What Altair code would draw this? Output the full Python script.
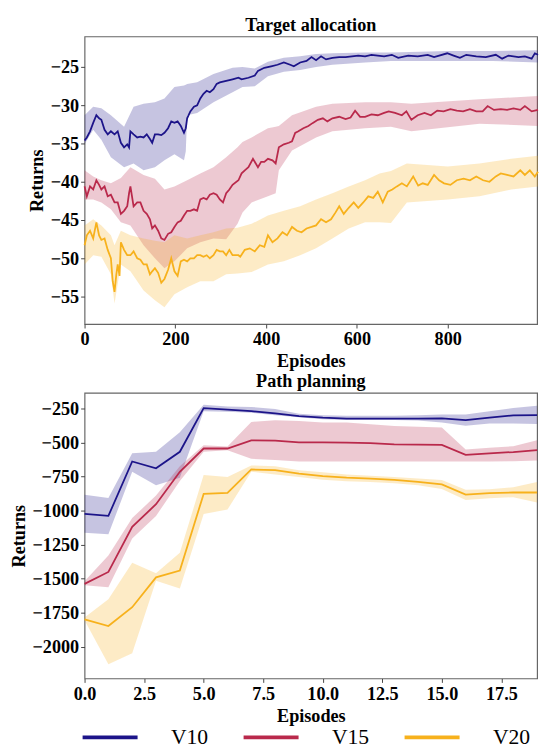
import altair as alt
import pandas as pd

SERIES = ["V10", "V15", "V20"]
COLORS = ["#1c1489", "#b9294b", "#f7b11c"]

# ---------------- Target allocation (top) ----------------
TA_V10_EP = [0, 5, 12, 19, 26, 32, 37, 44, 51, 58, 66, 73, 80, 87, 94, 98, 101, 108, 116, 123, 130, 137, 144, 149, 155, 162, 169, 176, 184, 191, 198, 205, 212, 219, 223, 226, 233, 241, 248, 255, 262, 269, 276, 284, 291, 298, 312, 326, 339, 346, 361, 375, 382, 396, 411, 425, 439, 453, 461, 475, 489, 500, 510, 521, 532, 546, 561, 575, 589, 603, 618, 632, 646, 660, 677, 691, 713, 734, 756, 770, 799, 813, 827, 841, 863, 884, 906, 920, 934, 956, 970, 985, 992, 999]
TA_V10 = [-34.6, -34.2, -33.4, -32.3, -31.3, -31.7, -31.9, -33.2, -33.8, -33.4, -33.8, -33.4, -34.9, -35.5, -35.1, -35.5, -33.4, -33.8, -34.2, -34.1, -34.2, -33.8, -34.4, -34.9, -33.8, -33.8, -33.9, -33.6, -33.0, -32.1, -32.3, -32.1, -32.7, -33.6, -33.0, -31.7, -30.8, -30.2, -30.0, -29.1, -28.5, -28.1, -28.3, -27.9, -27.2, -27.0, -26.8, -26.6, -26.4, -26.6, -26.4, -26.1, -25.5, -25.1, -24.9, -24.7, -24.4, -24.7, -24.9, -24.4, -24.2, -23.7, -24.1, -23.6, -24.0, -23.8, -23.7, -23.7, -23.6, -23.5, -23.6, -23.4, -23.5, -23.6, -23.4, -23.8, -23.5, -23.6, -23.4, -23.7, -23.2, -23.5, -23.8, -23.4, -23.6, -23.7, -23.4, -23.9, -23.5, -23.7, -23.6, -23.9, -23.2, -23.4]
TA_V10_BAND_EP = [0, 19, 37, 58, 87, 108, 130, 155, 176, 198, 219, 223, 226, 248, 284, 326, 348, 375, 404, 439, 475, 510, 546, 618, 675, 800, 900, 999]
TA_V10_LO = [-35.1, -33.2, -34.5, -36.8, -38.1, -37.6, -38.5, -38.1, -37.2, -36.4, -37.2, -36.0, -31.3, -31.0, -29.6, -28.3, -27.6, -27.5, -26.2, -25.6, -25.4, -25.0, -24.7, -24.4, -24.2, -24.2, -24.2, -24.4]
TA_V10_HI = [-31.3, -30.2, -30.4, -31.3, -32.8, -30.2, -29.8, -29.6, -29.1, -27.6, -27.4, -27.3, -27.2, -27.0, -25.9, -25.1, -25.0, -25.2, -24.3, -23.8, -23.6, -23.3, -23.2, -23.1, -23.1, -22.9, -22.9, -22.8]

TA_V15_EP = [0, 5, 12, 19, 26, 32, 37, 44, 51, 58, 66, 73, 80, 87, 94, 98, 101, 108, 116, 123, 130, 137, 144, 149, 155, 162, 169, 176, 184, 191, 198, 205, 212, 219, 226, 233, 241, 248, 255, 262, 269, 276, 284, 291, 298, 305, 312, 319, 326, 339, 346, 353, 361, 371, 382, 389, 396, 404, 414, 421, 428, 439, 450, 457, 464, 471, 482, 493, 503, 514, 525, 535, 546, 561, 575, 586, 596, 607, 618, 632, 646, 660, 670, 684, 699, 709, 720, 734, 749, 763, 777, 791, 806, 820, 834, 849, 863, 877, 888, 902, 917, 931, 945, 960, 970, 985, 999]
TA_V15 = [-40.6, -41.9, -40.6, -41.0, -39.8, -40.4, -41.0, -40.6, -41.9, -41.7, -42.7, -42.7, -44.2, -43.8, -43.2, -41.5, -40.6, -43.2, -42.7, -42.7, -43.8, -44.2, -44.9, -46.1, -45.7, -46.4, -47.4, -47.6, -46.8, -46.6, -45.9, -45.3, -45.1, -44.4, -43.8, -43.8, -43.6, -43.8, -42.3, -42.1, -42.3, -41.7, -41.5, -41.7, -42.3, -42.7, -41.5, -41.0, -40.4, -39.8, -38.9, -38.5, -38.1, -37.0, -38.1, -37.4, -37.4, -37.0, -37.2, -37.6, -35.5, -35.1, -34.9, -34.7, -33.6, -33.4, -33.0, -32.7, -32.3, -31.9, -31.7, -32.1, -31.7, -31.5, -31.8, -31.6, -30.7, -31.5, -31.5, -31.2, -31.3, -31.0, -30.8, -31.0, -31.3, -30.8, -31.9, -31.3, -31.0, -31.3, -30.7, -30.8, -30.5, -30.7, -30.8, -30.5, -30.8, -30.8, -30.1, -30.6, -30.5, -30.6, -30.4, -30.6, -30.1, -30.8, -30.6]
TA_V15_BAND_EP = [0, 19, 37, 58, 80, 101, 130, 155, 176, 198, 226, 255, 284, 312, 337, 348, 368, 404, 421, 428, 457, 510, 546, 618, 675, 720, 870, 999]
TA_V15_LO = [-42.3, -42.3, -42.7, -43.6, -45.3, -45.7, -48.3, -50.0, -51.3, -50.4, -48.7, -47.9, -47.4, -47.5, -45.5, -44.0, -42.7, -41.9, -41.5, -38.5, -35.9, -34.2, -33.4, -33.0, -32.8, -33.4, -32.4, -32.7]
TA_V15_HI = [-38.5, -39.3, -39.8, -40.2, -39.5, -38.1, -39.1, -39.6, -41.0, -40.6, -39.8, -38.9, -38.1, -36.8, -35.5, -34.8, -34.2, -33.0, -32.8, -32.7, -31.3, -30.2, -29.8, -29.6, -29.6, -29.8, -29.2, -28.8]

TA_V20_EP = [0, 5, 12, 19, 26, 32, 37, 44, 51, 58, 62, 66, 70, 73, 77, 80, 87, 94, 101, 108, 116, 123, 130, 137, 144, 149, 155, 162, 169, 176, 184, 191, 198, 205, 212, 219, 226, 233, 241, 248, 255, 262, 269, 276, 284, 291, 298, 305, 312, 319, 326, 339, 343, 353, 364, 375, 386, 396, 404, 414, 425, 436, 446, 457, 468, 478, 489, 500, 510, 521, 532, 543, 553, 561, 571, 582, 593, 603, 614, 625, 636, 646, 657, 668, 678, 688, 699, 710, 724, 735, 745, 756, 770, 781, 792, 806, 820, 835, 849, 863, 878, 892, 906, 917, 931, 945, 960, 970, 981, 992, 999]
TA_V20 = [-48.3, -47.0, -46.4, -47.4, -45.3, -47.0, -47.6, -47.4, -48.9, -50.0, -53.0, -54.4, -52.1, -50.8, -52.3, -47.9, -48.9, -49.6, -49.6, -49.1, -50.0, -50.2, -50.8, -50.8, -52.1, -51.7, -51.3, -51.9, -53.2, -52.7, -51.5, -50.0, -51.7, -52.3, -50.4, -50.2, -50.4, -50.0, -50.0, -49.6, -49.6, -49.8, -49.6, -50.0, -49.6, -48.9, -49.1, -49.1, -49.6, -48.9, -49.6, -49.6, -49.8, -48.9, -48.7, -49.1, -48.3, -48.5, -47.0, -47.9, -47.4, -46.6, -47.0, -45.9, -46.4, -46.6, -46.1, -45.9, -45.7, -44.9, -45.3, -44.9, -44.0, -43.2, -44.2, -43.4, -42.7, -43.4, -42.7, -41.9, -42.1, -41.3, -42.7, -41.3, -41.0, -40.6, -40.2, -40.6, -39.3, -40.5, -40.2, -40.4, -39.1, -39.8, -40.2, -40.4, -39.8, -39.6, -39.8, -39.3, -39.8, -40.0, -39.3, -38.9, -39.1, -39.3, -38.5, -39.1, -38.5, -39.3, -38.7]
TA_V20_BAND_EP = [0, 19, 37, 58, 66, 80, 101, 130, 155, 176, 198, 226, 255, 284, 312, 337, 368, 404, 439, 475, 510, 546, 582, 618, 650, 675, 710, 800, 870, 940, 999]
TA_V20_LO = [-50.8, -49.6, -49.8, -52.1, -55.9, -50.8, -51.7, -54.2, -55.5, -56.4, -54.7, -53.8, -53.0, -53.0, -52.1, -52.0, -51.8, -50.8, -50.4, -49.6, -48.7, -47.4, -46.1, -45.3, -45.3, -45.4, -42.7, -42.3, -41.9, -41.0, -40.6]
TA_V20_HI = [-45.7, -44.9, -45.7, -47.0, -48.3, -46.4, -47.0, -47.4, -47.7, -47.9, -47.0, -47.4, -47.0, -46.6, -46.1, -46.0, -45.5, -44.4, -43.8, -43.2, -42.3, -41.5, -40.6, -39.8, -38.9, -38.6, -37.6, -38.0, -37.6, -37.0, -36.6]

# ---------------- Path planning (bottom) ----------------
PP_EP = list(range(20))
PP_V10 = [-1025, -1040, -640, -690, -569, -248, -260, -271, -287, -307, -319, -326, -326, -325, -325, -324, -336, -319, -302, -300]
PP_V10_LO = [-1163, -1175, -716, -814, -760, -271, -275, -282, -300, -315, -330, -335, -335, -335, -340, -355, -378, -362, -362, -366]
PP_V10_HI = [-885, -909, -580, -569, -426, -224, -236, -240, -255, -290, -300, -305, -305, -305, -300, -295, -295, -271, -248, -231]
PP_V15 = [-1539, -1451, -1120, -954, -716, -545, -545, -485, -488, -500, -500, -502, -505, -514, -516, -519, -592, -581, -571, -557]
PP_V15_LO = [-1548, -1563, -1206, -1040, -783, -569, -557, -621, -630, -640, -640, -640, -640, -640, -640, -640, -640, -640, -638, -633]
PP_V15_HI = [-1520, -1330, -1056, -890, -676, -521, -530, -350, -338, -343, -355, -355, -367, -379, -386, -390, -552, -540, -528, -485]
PP_V20 = [-1800, -1848, -1710, -1491, -1441, -878, -871, -699, -704, -730, -747, -759, -766, -776, -790, -809, -883, -873, -868, -868]
PP_V20_LO = [-1805, -2129, -2048, -1515, -1572, -1025, -992, -716, -735, -755, -775, -785, -790, -800, -815, -842, -923, -910, -902, -942]
PP_V20_HI = [-1786, -1651, -1384, -1460, -1311, -740, -754, -669, -676, -705, -720, -735, -745, -755, -765, -776, -847, -845, -830, -790]

FONT = "Liberation Serif"


def lines_df(pairs):
    rows = []
    for name, xs, ys in pairs:
        for x, y in zip(xs, ys):
            rows.append({"series": name, "x": x, "y": y})
    return pd.DataFrame(rows)


def band_df(triples):
    rows = []
    for name, xs, lo, hi in triples:
        for x, a, b in zip(xs, lo, hi):
            rows.append({"series": name, "x": x, "lo": a, "hi": b})
    return pd.DataFrame(rows)


color_scale = alt.Scale(domain=SERIES, range=COLORS)
legend = alt.Legend(
    orient="none", legendX=-4, legendY=703, direction="horizontal", title=None,
    symbolType="stroke", symbolStrokeWidth=4, symbolSize=3136, clipHeight=22,
    labelFontSize=22, labelFont=FONT, labelFontWeight="normal", labelColor="black",
    labelOffset=32, columnPadding=34, symbolOpacity=1,
)


def panel(title, line_data, band_data, xdom, ydom, xvals, yvals, xfmt, height):
    xs = alt.Scale(domain=xdom, nice=False, zero=False)
    ys = alt.Scale(domain=ydom, nice=False, zero=False)
    xax = alt.Axis(values=xvals, format=xfmt, title="Episodes")
    yax = alt.Axis(values=yvals, format="d", title="Returns")
    layers = []
    for name, col in zip(SERIES, COLORS):
        layers.append(
            alt.Chart(band_data).transform_filter(alt.datum.series == name)
            .mark_area(color=col, opacity=0.25, interpolate="linear")
            .encode(
                x=alt.X("x:Q", scale=xs, axis=xax),
                y=alt.Y("lo:Q", scale=ys, axis=yax),
                y2="hi:Q",
            )
        )
    layers.append(
        alt.Chart(line_data).mark_line(strokeWidth=1.8).encode(
            x=alt.X("x:Q", scale=xs, axis=xax),
            y=alt.Y("y:Q", scale=ys, axis=yax),
            color=alt.Color("series:N", scale=color_scale, legend=legend),
        )
    )
    return alt.layer(*layers).properties(
        width=461, height=height,
        title=alt.TitleParams(title, fontSize=18.5, font=FONT, fontWeight="bold", offset=2, color="black"),
    )


top = panel(
    "Target allocation",
    lines_df([("V10", TA_V10_EP, TA_V10), ("V15", TA_V15_EP, TA_V15), ("V20", TA_V20_EP, TA_V20)]),
    band_df([("V10", TA_V10_BAND_EP, TA_V10_LO, TA_V10_HI),
             ("V15", TA_V15_BAND_EP, TA_V15_LO, TA_V15_HI),
             ("V20", TA_V20_BAND_EP, TA_V20_LO, TA_V20_HI)]),
    [0, 997], [-58.6, -21.0], [0, 200, 400, 600, 800], [-55, -50, -45, -40, -35, -30, -25], "d", 293,
)
bottom = panel(
    "Path planning",
    lines_df([("V10", PP_EP, PP_V10), ("V15", PP_EP, PP_V15), ("V20", PP_EP, PP_V20)]),
    band_df([("V10", PP_EP, PP_V10_LO, PP_V10_HI),
             ("V15", PP_EP, PP_V15_LO, PP_V15_HI),
             ("V20", PP_EP, PP_V20_LO, PP_V20_HI)]),
    [0, 19], [-2233, -136], [0, 2.5, 5, 7.5, 10, 12.5, 15, 17.5],
    [-2000, -1750, -1500, -1250, -1000, -750, -500, -250], ".1f", 291,
)

chart = alt.vconcat(top, bottom, spacing=0).properties(
    padding={"left": 0, "top": 0, "right": 0, "bottom": 0}
).configure_view(
    stroke="#666666", strokeWidth=1.2
).configure_axis(
    domain=False, grid=False, ticks=True, tickSize=4, tickColor="#444444", tickWidth=1,
    labelFont=FONT, labelFontSize=18.5, labelFontWeight="bold", labelColor="black", labelPadding=2,
    titleFont=FONT, titleFontSize=18.5, titleFontWeight="bold", titleColor="black", titlePadding=4,
    labelFlush=False, labelOverlap=False,
)

chart.save("out.html", embed_options={"renderer": "svg", "actions": False})
